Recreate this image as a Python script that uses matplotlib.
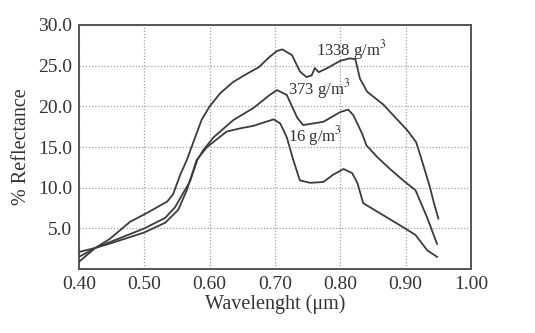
import matplotlib
matplotlib.use("Agg")
import matplotlib.pyplot as plt

# --- data ------------------------------------------------------------------ #
wl_1338 = [0.400, 0.425, 0.447, 0.478, 0.504, 0.535, 0.544, 0.555, 0.565, 0.575,
           0.588, 0.600, 0.616, 0.636, 0.657, 0.675, 0.692, 0.703, 0.711, 0.726,
           0.738, 0.748, 0.756, 0.761, 0.767, 0.780, 0.800, 0.815, 0.823, 0.830,
           0.841, 0.866, 0.881, 0.902, 0.916, 0.925, 0.937, 0.942, 0.950]
r_1338 = [0.9, 2.6, 3.7, 5.8, 6.9, 8.3, 9.2, 11.6, 13.4, 15.6,
          18.4, 20.0, 21.6, 23.0, 24.0, 24.8, 26.1, 26.8, 27.0, 26.3,
          24.3, 23.6, 23.8, 24.7, 24.2, 24.7, 25.6, 25.9, 25.8, 23.4,
          21.8, 20.2, 18.9, 17.1, 15.6, 13.3, 10.1, 8.5, 6.2]

wl_373 = [0.400, 0.425, 0.450, 0.500, 0.532, 0.547, 0.562, 0.570, 0.581, 0.590,
          0.606, 0.636, 0.667, 0.692, 0.703, 0.718, 0.734, 0.743, 0.774, 0.800,
          0.812, 0.820, 0.833, 0.840, 0.856, 0.876, 0.899, 0.915, 0.933, 0.948]
r_373 = [1.5, 2.6, 3.4, 5.0, 6.3, 7.6, 9.7, 10.8, 13.4, 14.6,
         16.2, 18.3, 19.8, 21.4, 22.0, 21.4, 18.6, 17.7, 18.1, 19.3,
         19.6, 18.9, 16.7, 15.2, 13.8, 12.3, 10.7, 9.7, 6.3, 3.1]

wl_16 = [0.400, 0.425, 0.450, 0.500, 0.532, 0.552, 0.565, 0.580, 0.596, 0.626,
         0.647, 0.667, 0.682, 0.698, 0.708, 0.718, 0.728, 0.738, 0.754, 0.774,
         0.789, 0.805, 0.818, 0.826, 0.835, 0.866, 0.899, 0.915, 0.933, 0.948]
r_16 = [2.1, 2.6, 3.2, 4.5, 5.7, 7.3, 9.7, 13.4, 15.0, 16.9,
        17.3, 17.6, 18.0, 18.4, 17.9, 16.2, 13.4, 10.9, 10.6, 10.7,
        11.6, 12.3, 11.8, 10.6, 8.1, 6.6, 5.0, 4.2, 2.3, 1.5]

x_ticks = [0.40, 0.50, 0.60, 0.70, 0.80, 0.90, 1.00]
y_ticks = [5.0, 10.0, 15.0, 20.0, 25.0, 30.0]

LINE = "#3c3c3c"
TEXT = "#333333"

plt.rcParams.update({"font.family": ["Liberation Serif", "DejaVu Serif"],
                     "mathtext.fontset": "stix"})

fig = plt.figure(figsize=(5.35, 3.33), dpi=100)
ax = fig.add_axes([0.1477, 0.192, 0.7327, 0.733])

for wl, r in [(wl_1338, r_1338), (wl_373, r_373), (wl_16, r_16)]:
    ax.plot(wl, r, color=LINE, linewidth=1.3, zorder=3)

ax.set_xlim(0.40, 1.00)
ax.set_ylim(0, 30)
ax.set_xticks(x_ticks)
ax.set_xticklabels([f"{t:.2f}" for t in x_ticks])
ax.set_yticks(y_ticks)
ax.set_yticklabels([f"{t:.1f}" for t in y_ticks])
ax.tick_params(length=0, labelsize=14, labelcolor=TEXT, pad=5)

ax.grid(True, linestyle=(0, (1, 1.5)), color="#a0a0a0", linewidth=0.9, zorder=0)
for s in ax.spines.values():
    s.set_color("#555555")
    s.set_linewidth(1.4)

ax.set_xlabel("Wavelenght (μm)", fontsize=14.5, color=TEXT, labelpad=1)
ax.set_ylabel("% Reflectance", fontsize=14.5, color=TEXT, labelpad=5)

for txt, x, y in [("1338 g/m$^3$", 0.7625, 26.9),
                  ("373 g/m$^3$", 0.7205, 22.1),
                  ("16 g/m$^3$", 0.7205, 16.3)]:
    ax.text(x, y, txt, fontsize=12, color=TEXT, ha="left", va="center", zorder=4)

fig.savefig("out.png", dpi=100)
